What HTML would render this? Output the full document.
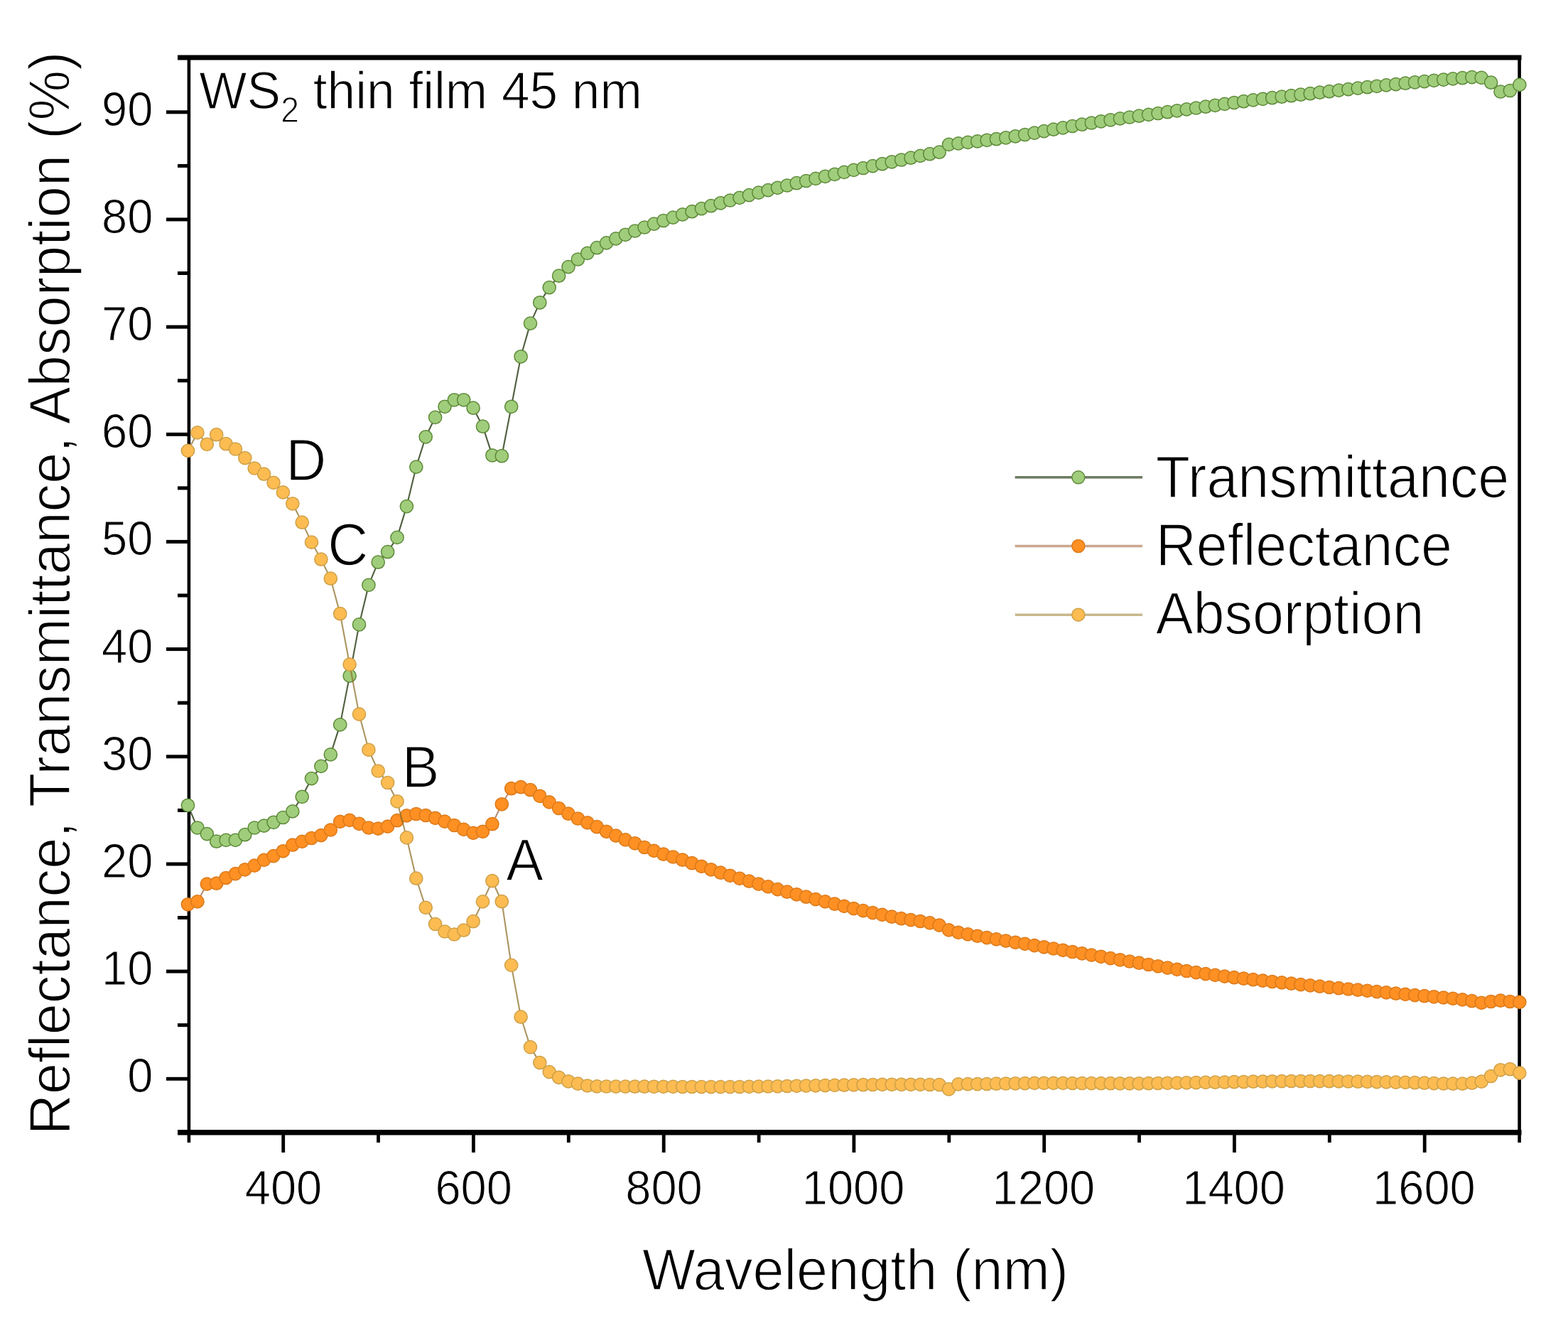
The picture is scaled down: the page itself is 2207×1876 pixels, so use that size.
<!DOCTYPE html>
<html lang="en"><head><meta charset="utf-8"><title>WS2 thin film 45 nm</title>
<style>html,body{margin:0;padding:0;background:#fff}body{width:2207px;height:1876px;overflow:hidden}svg{display:block}text{font-family:"Liberation Sans",sans-serif;fill:#000}</style></head><body>
<svg width="2207" height="1876" viewBox="0 0 2207 1876">
<rect width="2207" height="1876" fill="#fff"/>
<g stroke="#000" fill="none" stroke-linecap="butt">
<line x1="250.0" y1="81.0" x2="2141.5" y2="81.0" stroke-width="7"/>
<line x1="250.0" y1="1593.7" x2="2141.5" y2="1593.7" stroke-width="7.4"/>
<line x1="265.9" y1="81.0" x2="265.9" y2="1608.0" stroke-width="4.6"/>
<line x1="2138.6" y1="81.0" x2="2138.6" y2="1608.0" stroke-width="4.6"/>
<line x1="234" y1="1518.3" x2="265.9" y2="1518.3" stroke-width="5.0"/>
<line x1="234" y1="1367.1" x2="265.9" y2="1367.1" stroke-width="5.0"/>
<line x1="234" y1="1216.0" x2="265.9" y2="1216.0" stroke-width="5.0"/>
<line x1="234" y1="1064.8" x2="265.9" y2="1064.8" stroke-width="5.0"/>
<line x1="234" y1="913.6" x2="265.9" y2="913.6" stroke-width="5.0"/>
<line x1="234" y1="762.4" x2="265.9" y2="762.4" stroke-width="5.0"/>
<line x1="234" y1="611.3" x2="265.9" y2="611.3" stroke-width="5.0"/>
<line x1="234" y1="460.1" x2="265.9" y2="460.1" stroke-width="5.0"/>
<line x1="234" y1="308.9" x2="265.9" y2="308.9" stroke-width="5.0"/>
<line x1="234" y1="157.8" x2="265.9" y2="157.8" stroke-width="5.0"/>
<line x1="250" y1="1442.7" x2="265.9" y2="1442.7" stroke-width="5.0"/>
<line x1="250" y1="1291.5" x2="265.9" y2="1291.5" stroke-width="5.0"/>
<line x1="250" y1="1140.4" x2="265.9" y2="1140.4" stroke-width="5.0"/>
<line x1="250" y1="989.2" x2="265.9" y2="989.2" stroke-width="5.0"/>
<line x1="250" y1="838.0" x2="265.9" y2="838.0" stroke-width="5.0"/>
<line x1="250" y1="686.9" x2="265.9" y2="686.9" stroke-width="5.0"/>
<line x1="250" y1="535.7" x2="265.9" y2="535.7" stroke-width="5.0"/>
<line x1="250" y1="384.5" x2="265.9" y2="384.5" stroke-width="5.0"/>
<line x1="250" y1="233.4" x2="265.9" y2="233.4" stroke-width="5.0"/>
<line x1="398.7" y1="1593.7" x2="398.7" y2="1622" stroke-width="4.8"/>
<line x1="666.4" y1="1593.7" x2="666.4" y2="1622" stroke-width="4.8"/>
<line x1="934.2" y1="1593.7" x2="934.2" y2="1622" stroke-width="4.8"/>
<line x1="1201.9" y1="1593.7" x2="1201.9" y2="1622" stroke-width="4.8"/>
<line x1="1469.7" y1="1593.7" x2="1469.7" y2="1622" stroke-width="4.8"/>
<line x1="1737.4" y1="1593.7" x2="1737.4" y2="1622" stroke-width="4.8"/>
<line x1="2005.2" y1="1593.7" x2="2005.2" y2="1622" stroke-width="4.8"/>
<line x1="532.5" y1="1593.7" x2="532.5" y2="1608" stroke-width="4.8"/>
<line x1="800.3" y1="1593.7" x2="800.3" y2="1608" stroke-width="4.8"/>
<line x1="1068.1" y1="1593.7" x2="1068.1" y2="1608" stroke-width="4.8"/>
<line x1="1335.8" y1="1593.7" x2="1335.8" y2="1608" stroke-width="4.8"/>
<line x1="1603.5" y1="1593.7" x2="1603.5" y2="1608" stroke-width="4.8"/>
<line x1="1871.3" y1="1593.7" x2="1871.3" y2="1608" stroke-width="4.8"/>
</g>
<text transform="translate(215.4,1537.3) scale(1,1.060)" font-size="65.0" text-anchor="end" stroke="#fff" stroke-width="1.0" stroke-linejoin="round">0</text>
<text transform="translate(215.4,1386.1) scale(1,1.060)" font-size="65.0" text-anchor="end" stroke="#fff" stroke-width="1.0" stroke-linejoin="round">10</text>
<text transform="translate(215.4,1235.0) scale(1,1.060)" font-size="65.0" text-anchor="end" stroke="#fff" stroke-width="1.0" stroke-linejoin="round">20</text>
<text transform="translate(215.4,1083.8) scale(1,1.060)" font-size="65.0" text-anchor="end" stroke="#fff" stroke-width="1.0" stroke-linejoin="round">30</text>
<text transform="translate(215.4,932.6) scale(1,1.060)" font-size="65.0" text-anchor="end" stroke="#fff" stroke-width="1.0" stroke-linejoin="round">40</text>
<text transform="translate(215.4,781.4) scale(1,1.060)" font-size="65.0" text-anchor="end" stroke="#fff" stroke-width="1.0" stroke-linejoin="round">50</text>
<text transform="translate(215.4,630.3) scale(1,1.060)" font-size="65.0" text-anchor="end" stroke="#fff" stroke-width="1.0" stroke-linejoin="round">60</text>
<text transform="translate(215.4,479.1) scale(1,1.060)" font-size="65.0" text-anchor="end" stroke="#fff" stroke-width="1.0" stroke-linejoin="round">70</text>
<text transform="translate(215.4,327.9) scale(1,1.060)" font-size="65.0" text-anchor="end" stroke="#fff" stroke-width="1.0" stroke-linejoin="round">80</text>
<text transform="translate(215.4,176.8) scale(1,1.060)" font-size="65.0" text-anchor="end" stroke="#fff" stroke-width="1.0" stroke-linejoin="round">90</text>
<text transform="translate(399.0,1695.0) scale(1,1.060)" font-size="65.0" text-anchor="middle" stroke="#fff" stroke-width="1.0" stroke-linejoin="round">400</text>
<text transform="translate(666.7,1695.0) scale(1,1.060)" font-size="65.0" text-anchor="middle" stroke="#fff" stroke-width="1.0" stroke-linejoin="round">600</text>
<text transform="translate(934.5,1695.0) scale(1,1.060)" font-size="65.0" text-anchor="middle" stroke="#fff" stroke-width="1.0" stroke-linejoin="round">800</text>
<text transform="translate(1201.1,1695.0) scale(1,1.060)" font-size="65.0" text-anchor="middle" stroke="#fff" stroke-width="1.0" stroke-linejoin="round">1000</text>
<text transform="translate(1468.9,1695.0) scale(1,1.060)" font-size="65.0" text-anchor="middle" stroke="#fff" stroke-width="1.0" stroke-linejoin="round">1200</text>
<text transform="translate(1736.6,1695.0) scale(1,1.060)" font-size="65.0" text-anchor="middle" stroke="#fff" stroke-width="1.0" stroke-linejoin="round">1400</text>
<text transform="translate(2004.4,1695.0) scale(1,1.060)" font-size="65.0" text-anchor="middle" stroke="#fff" stroke-width="1.0" stroke-linejoin="round">1600</text>
<text transform="translate(1204.0,1814.6) scale(1,1.030)" font-size="79.2" text-anchor="middle" stroke="#fff" stroke-width="1.5" stroke-linejoin="round">Wavelength (nm)</text>
<text transform="translate(98.0,835.0) rotate(-90) scale(1,1.020)" font-size="79.3" text-anchor="middle" stroke="#fff" stroke-width="1.5" stroke-linejoin="round">Reflectance, Transmittance, Absorption (%)</text>
<text transform="translate(280.2,152.8) scale(1,1.05)" font-size="71.2" stroke="#fff" stroke-width="1.2" stroke-linejoin="round">WS<tspan font-size="47.0" dy="18.6">2</tspan><tspan dy="-18.6"> thin film 45 nm</tspan></text>
<polyline points="264.5,1133.3 277.9,1165.0 291.3,1173.6 304.7,1184.2 318.1,1182.4 331.4,1182.4 344.8,1174.7 358.2,1165.0 371.6,1162.1 385.0,1157.3 398.4,1150.5 411.8,1141.9 425.2,1121.3 438.5,1095.6 451.9,1078.4 465.3,1061.9 478.7,1019.9 492.1,951.1 505.5,878.9 518.9,823.4 532.2,791.2 545.6,776.7 559.0,756.4 572.4,712.6 585.8,657.1 599.2,614.8 612.6,587.4 626.0,572.3 639.4,562.8 652.7,562.8 666.1,574.2 679.5,600.2 692.9,640.8 706.3,641.7 719.7,572.3 733.1,501.8 746.5,455.1 759.8,425.8 773.2,404.6 786.6,388.2 800.0,375.6 813.4,365.0 826.8,356.4 840.2,348.7 853.6,341.9 866.9,335.9 880.3,330.3 893.7,325.0 907.1,320.0 920.5,315.1 933.9,310.5 947.3,306.1 960.7,301.9 974.0,297.7 987.4,293.6 1000.8,289.7 1014.2,285.8 1027.6,282.0 1041.0,278.3 1054.4,274.6 1067.8,271.1 1081.1,267.6 1094.5,264.3 1107.9,261.0 1121.3,257.7 1134.7,254.5 1148.1,251.4 1161.5,248.3 1174.9,245.3 1188.2,242.4 1201.6,239.4 1215.0,236.5 1228.4,233.6 1241.8,230.7 1255.2,227.8 1268.6,225.0 1282.0,222.2 1295.3,219.4 1308.7,216.7 1322.1,214.2 1335.5,203.4 1348.9,201.9 1362.3,200.4 1375.7,198.9 1389.1,197.3 1402.4,195.7 1415.8,193.8 1429.2,191.8 1442.6,189.5 1456.0,187.1 1469.4,184.6 1482.8,182.2 1496.2,179.9 1509.5,177.5 1522.9,175.2 1536.3,173.0 1549.7,170.8 1563.1,168.8 1576.5,166.9 1589.9,165.0 1603.2,163.2 1616.6,161.4 1630.0,159.5 1643.4,157.7 1656.8,155.8 1670.2,153.9 1683.6,152.0 1697.0,150.2 1710.4,148.3 1723.7,146.4 1737.1,144.5 1750.5,142.7 1763.9,140.9 1777.3,139.3 1790.7,137.7 1804.1,136.2 1817.5,134.7 1830.8,133.2 1844.2,131.7 1857.6,130.2 1871.0,128.7 1884.4,127.1 1897.8,125.6 1911.2,124.1 1924.6,122.7 1937.9,121.3 1951.3,119.9 1964.7,118.6 1978.1,117.2 1991.5,115.9 2004.9,114.6 2018.3,113.4 2031.7,112.1 2045.0,110.9 2058.4,109.7 2071.8,108.6 2085.2,109.4 2098.6,116.2 2112.0,129.0 2125.4,127.5 2138.8,119.4" fill="none" stroke="#283c14" stroke-opacity="0.82" stroke-width="2.1" stroke-linejoin="round"/>
<g fill="#a0cd7b" stroke="#5d8a38" stroke-width="1.5">
<circle cx="264.5" cy="1133.3" r="9.1"/>
<circle cx="277.9" cy="1165.0" r="9.1"/>
<circle cx="291.3" cy="1173.6" r="9.1"/>
<circle cx="304.7" cy="1184.2" r="9.1"/>
<circle cx="318.1" cy="1182.4" r="9.1"/>
<circle cx="331.4" cy="1182.4" r="9.1"/>
<circle cx="344.8" cy="1174.7" r="9.1"/>
<circle cx="358.2" cy="1165.0" r="9.1"/>
<circle cx="371.6" cy="1162.1" r="9.1"/>
<circle cx="385.0" cy="1157.3" r="9.1"/>
<circle cx="398.4" cy="1150.5" r="9.1"/>
<circle cx="411.8" cy="1141.9" r="9.1"/>
<circle cx="425.2" cy="1121.3" r="9.1"/>
<circle cx="438.5" cy="1095.6" r="9.1"/>
<circle cx="451.9" cy="1078.4" r="9.1"/>
<circle cx="465.3" cy="1061.9" r="9.1"/>
<circle cx="478.7" cy="1019.9" r="9.1"/>
<circle cx="492.1" cy="951.1" r="9.1"/>
<circle cx="505.5" cy="878.9" r="9.1"/>
<circle cx="518.9" cy="823.4" r="9.1"/>
<circle cx="532.2" cy="791.2" r="9.1"/>
<circle cx="545.6" cy="776.7" r="9.1"/>
<circle cx="559.0" cy="756.4" r="9.1"/>
<circle cx="572.4" cy="712.6" r="9.1"/>
<circle cx="585.8" cy="657.1" r="9.1"/>
<circle cx="599.2" cy="614.8" r="9.1"/>
<circle cx="612.6" cy="587.4" r="9.1"/>
<circle cx="626.0" cy="572.3" r="9.1"/>
<circle cx="639.4" cy="562.8" r="9.1"/>
<circle cx="652.7" cy="562.8" r="9.1"/>
<circle cx="666.1" cy="574.2" r="9.1"/>
<circle cx="679.5" cy="600.2" r="9.1"/>
<circle cx="692.9" cy="640.8" r="9.1"/>
<circle cx="706.3" cy="641.7" r="9.1"/>
<circle cx="719.7" cy="572.3" r="9.1"/>
<circle cx="733.1" cy="501.8" r="9.1"/>
<circle cx="746.5" cy="455.1" r="9.1"/>
<circle cx="759.8" cy="425.8" r="9.1"/>
<circle cx="773.2" cy="404.6" r="9.1"/>
<circle cx="786.6" cy="388.2" r="9.1"/>
<circle cx="800.0" cy="375.6" r="9.1"/>
<circle cx="813.4" cy="365.0" r="9.1"/>
<circle cx="826.8" cy="356.4" r="9.1"/>
<circle cx="840.2" cy="348.7" r="9.1"/>
<circle cx="853.6" cy="341.9" r="9.1"/>
<circle cx="866.9" cy="335.9" r="9.1"/>
<circle cx="880.3" cy="330.3" r="9.1"/>
<circle cx="893.7" cy="325.0" r="9.1"/>
<circle cx="907.1" cy="320.0" r="9.1"/>
<circle cx="920.5" cy="315.1" r="9.1"/>
<circle cx="933.9" cy="310.5" r="9.1"/>
<circle cx="947.3" cy="306.1" r="9.1"/>
<circle cx="960.7" cy="301.9" r="9.1"/>
<circle cx="974.0" cy="297.7" r="9.1"/>
<circle cx="987.4" cy="293.6" r="9.1"/>
<circle cx="1000.8" cy="289.7" r="9.1"/>
<circle cx="1014.2" cy="285.8" r="9.1"/>
<circle cx="1027.6" cy="282.0" r="9.1"/>
<circle cx="1041.0" cy="278.3" r="9.1"/>
<circle cx="1054.4" cy="274.6" r="9.1"/>
<circle cx="1067.8" cy="271.1" r="9.1"/>
<circle cx="1081.1" cy="267.6" r="9.1"/>
<circle cx="1094.5" cy="264.3" r="9.1"/>
<circle cx="1107.9" cy="261.0" r="9.1"/>
<circle cx="1121.3" cy="257.7" r="9.1"/>
<circle cx="1134.7" cy="254.5" r="9.1"/>
<circle cx="1148.1" cy="251.4" r="9.1"/>
<circle cx="1161.5" cy="248.3" r="9.1"/>
<circle cx="1174.9" cy="245.3" r="9.1"/>
<circle cx="1188.2" cy="242.4" r="9.1"/>
<circle cx="1201.6" cy="239.4" r="9.1"/>
<circle cx="1215.0" cy="236.5" r="9.1"/>
<circle cx="1228.4" cy="233.6" r="9.1"/>
<circle cx="1241.8" cy="230.7" r="9.1"/>
<circle cx="1255.2" cy="227.8" r="9.1"/>
<circle cx="1268.6" cy="225.0" r="9.1"/>
<circle cx="1282.0" cy="222.2" r="9.1"/>
<circle cx="1295.3" cy="219.4" r="9.1"/>
<circle cx="1308.7" cy="216.7" r="9.1"/>
<circle cx="1322.1" cy="214.2" r="9.1"/>
<circle cx="1335.5" cy="203.4" r="9.1"/>
<circle cx="1348.9" cy="201.9" r="9.1"/>
<circle cx="1362.3" cy="200.4" r="9.1"/>
<circle cx="1375.7" cy="198.9" r="9.1"/>
<circle cx="1389.1" cy="197.3" r="9.1"/>
<circle cx="1402.4" cy="195.7" r="9.1"/>
<circle cx="1415.8" cy="193.8" r="9.1"/>
<circle cx="1429.2" cy="191.8" r="9.1"/>
<circle cx="1442.6" cy="189.5" r="9.1"/>
<circle cx="1456.0" cy="187.1" r="9.1"/>
<circle cx="1469.4" cy="184.6" r="9.1"/>
<circle cx="1482.8" cy="182.2" r="9.1"/>
<circle cx="1496.2" cy="179.9" r="9.1"/>
<circle cx="1509.5" cy="177.5" r="9.1"/>
<circle cx="1522.9" cy="175.2" r="9.1"/>
<circle cx="1536.3" cy="173.0" r="9.1"/>
<circle cx="1549.7" cy="170.8" r="9.1"/>
<circle cx="1563.1" cy="168.8" r="9.1"/>
<circle cx="1576.5" cy="166.9" r="9.1"/>
<circle cx="1589.9" cy="165.0" r="9.1"/>
<circle cx="1603.2" cy="163.2" r="9.1"/>
<circle cx="1616.6" cy="161.4" r="9.1"/>
<circle cx="1630.0" cy="159.5" r="9.1"/>
<circle cx="1643.4" cy="157.7" r="9.1"/>
<circle cx="1656.8" cy="155.8" r="9.1"/>
<circle cx="1670.2" cy="153.9" r="9.1"/>
<circle cx="1683.6" cy="152.0" r="9.1"/>
<circle cx="1697.0" cy="150.2" r="9.1"/>
<circle cx="1710.4" cy="148.3" r="9.1"/>
<circle cx="1723.7" cy="146.4" r="9.1"/>
<circle cx="1737.1" cy="144.5" r="9.1"/>
<circle cx="1750.5" cy="142.7" r="9.1"/>
<circle cx="1763.9" cy="140.9" r="9.1"/>
<circle cx="1777.3" cy="139.3" r="9.1"/>
<circle cx="1790.7" cy="137.7" r="9.1"/>
<circle cx="1804.1" cy="136.2" r="9.1"/>
<circle cx="1817.5" cy="134.7" r="9.1"/>
<circle cx="1830.8" cy="133.2" r="9.1"/>
<circle cx="1844.2" cy="131.7" r="9.1"/>
<circle cx="1857.6" cy="130.2" r="9.1"/>
<circle cx="1871.0" cy="128.7" r="9.1"/>
<circle cx="1884.4" cy="127.1" r="9.1"/>
<circle cx="1897.8" cy="125.6" r="9.1"/>
<circle cx="1911.2" cy="124.1" r="9.1"/>
<circle cx="1924.6" cy="122.7" r="9.1"/>
<circle cx="1937.9" cy="121.3" r="9.1"/>
<circle cx="1951.3" cy="119.9" r="9.1"/>
<circle cx="1964.7" cy="118.6" r="9.1"/>
<circle cx="1978.1" cy="117.2" r="9.1"/>
<circle cx="1991.5" cy="115.9" r="9.1"/>
<circle cx="2004.9" cy="114.6" r="9.1"/>
<circle cx="2018.3" cy="113.4" r="9.1"/>
<circle cx="2031.7" cy="112.1" r="9.1"/>
<circle cx="2045.0" cy="110.9" r="9.1"/>
<circle cx="2058.4" cy="109.7" r="9.1"/>
<circle cx="2071.8" cy="108.6" r="9.1"/>
<circle cx="2085.2" cy="109.4" r="9.1"/>
<circle cx="2098.6" cy="116.2" r="9.1"/>
<circle cx="2112.0" cy="129.0" r="9.1"/>
<circle cx="2125.4" cy="127.5" r="9.1"/>
<circle cx="2138.8" cy="119.4" r="9.1"/>
</g>
<polyline points="264.5,1272.8 277.9,1268.9 291.3,1244.1 304.7,1243.2 318.1,1235.5 331.4,1229.6 344.8,1223.8 358.2,1218.1 371.6,1210.4 385.0,1204.6 398.4,1197.8 411.8,1189.2 425.2,1184.4 438.5,1179.5 451.9,1175.6 465.3,1168.0 478.7,1156.4 492.1,1154.4 505.5,1159.3 518.9,1165.0 532.2,1166.1 545.6,1163.1 559.0,1154.7 572.4,1147.9 585.8,1145.5 599.2,1147.5 612.6,1151.3 626.0,1156.1 639.4,1161.5 652.7,1167.4 666.1,1172.3 679.5,1170.3 692.9,1159.7 706.3,1131.8 719.7,1109.7 733.1,1107.7 746.5,1111.7 759.8,1120.3 773.2,1128.9 786.6,1137.5 800.0,1145.2 813.4,1152.0 826.8,1157.8 840.2,1163.7 853.6,1170.3 866.9,1176.1 880.3,1181.9 893.7,1186.8 907.1,1192.5 920.5,1197.4 933.9,1202.2 947.3,1206.0 960.7,1210.2 974.0,1214.7 987.4,1219.3 1000.8,1223.8 1014.2,1228.2 1027.6,1232.3 1041.0,1236.3 1054.4,1240.2 1067.8,1244.1 1081.1,1247.9 1094.5,1251.6 1107.9,1255.2 1121.3,1258.8 1134.7,1262.2 1148.1,1265.6 1161.5,1268.9 1174.9,1272.2 1188.2,1275.4 1201.6,1278.6 1215.0,1281.6 1228.4,1284.6 1241.8,1287.4 1255.2,1290.2 1268.6,1292.7 1282.0,1294.6 1295.3,1296.5 1308.7,1298.9 1322.1,1302.1 1335.5,1308.9 1348.9,1312.3 1362.3,1314.9 1375.7,1317.3 1389.1,1319.6 1402.4,1321.9 1415.8,1324.1 1429.2,1326.3 1442.6,1328.4 1456.0,1330.6 1469.4,1332.8 1482.8,1335.0 1496.2,1337.3 1509.5,1339.5 1522.9,1341.8 1536.3,1344.1 1549.7,1346.3 1563.1,1348.6 1576.5,1350.8 1589.9,1353.0 1603.2,1355.2 1616.6,1357.5 1630.0,1359.8 1643.4,1362.1 1656.8,1364.3 1670.2,1366.5 1683.6,1368.6 1697.0,1370.6 1710.4,1372.4 1723.7,1374.1 1737.1,1375.7 1750.5,1377.2 1763.9,1378.7 1777.3,1380.1 1790.7,1381.5 1804.1,1382.9 1817.5,1384.2 1830.8,1385.6 1844.2,1386.9 1857.6,1388.2 1871.0,1389.5 1884.4,1390.7 1897.8,1392.0 1911.2,1393.2 1924.6,1394.4 1937.9,1395.6 1951.3,1396.9 1964.7,1398.2 1978.1,1399.4 1991.5,1400.6 2004.9,1401.7 2018.3,1402.8 2031.7,1404.0 2045.0,1405.3 2058.4,1406.9 2071.8,1408.7 2085.2,1411.4 2098.6,1409.5 2112.0,1408.2 2125.4,1409.5 2138.8,1410.4" fill="none" stroke="#8c4a1c" stroke-opacity="0.62" stroke-width="2.1" stroke-linejoin="round"/>
<g fill="#ff9023" stroke="#dc7a1a" stroke-width="1.5">
<circle cx="264.5" cy="1272.8" r="9.1"/>
<circle cx="277.9" cy="1268.9" r="9.1"/>
<circle cx="291.3" cy="1244.1" r="9.1"/>
<circle cx="304.7" cy="1243.2" r="9.1"/>
<circle cx="318.1" cy="1235.5" r="9.1"/>
<circle cx="331.4" cy="1229.6" r="9.1"/>
<circle cx="344.8" cy="1223.8" r="9.1"/>
<circle cx="358.2" cy="1218.1" r="9.1"/>
<circle cx="371.6" cy="1210.4" r="9.1"/>
<circle cx="385.0" cy="1204.6" r="9.1"/>
<circle cx="398.4" cy="1197.8" r="9.1"/>
<circle cx="411.8" cy="1189.2" r="9.1"/>
<circle cx="425.2" cy="1184.4" r="9.1"/>
<circle cx="438.5" cy="1179.5" r="9.1"/>
<circle cx="451.9" cy="1175.6" r="9.1"/>
<circle cx="465.3" cy="1168.0" r="9.1"/>
<circle cx="478.7" cy="1156.4" r="9.1"/>
<circle cx="492.1" cy="1154.4" r="9.1"/>
<circle cx="505.5" cy="1159.3" r="9.1"/>
<circle cx="518.9" cy="1165.0" r="9.1"/>
<circle cx="532.2" cy="1166.1" r="9.1"/>
<circle cx="545.6" cy="1163.1" r="9.1"/>
<circle cx="559.0" cy="1154.7" r="9.1"/>
<circle cx="572.4" cy="1147.9" r="9.1"/>
<circle cx="585.8" cy="1145.5" r="9.1"/>
<circle cx="599.2" cy="1147.5" r="9.1"/>
<circle cx="612.6" cy="1151.3" r="9.1"/>
<circle cx="626.0" cy="1156.1" r="9.1"/>
<circle cx="639.4" cy="1161.5" r="9.1"/>
<circle cx="652.7" cy="1167.4" r="9.1"/>
<circle cx="666.1" cy="1172.3" r="9.1"/>
<circle cx="679.5" cy="1170.3" r="9.1"/>
<circle cx="692.9" cy="1159.7" r="9.1"/>
<circle cx="706.3" cy="1131.8" r="9.1"/>
<circle cx="719.7" cy="1109.7" r="9.1"/>
<circle cx="733.1" cy="1107.7" r="9.1"/>
<circle cx="746.5" cy="1111.7" r="9.1"/>
<circle cx="759.8" cy="1120.3" r="9.1"/>
<circle cx="773.2" cy="1128.9" r="9.1"/>
<circle cx="786.6" cy="1137.5" r="9.1"/>
<circle cx="800.0" cy="1145.2" r="9.1"/>
<circle cx="813.4" cy="1152.0" r="9.1"/>
<circle cx="826.8" cy="1157.8" r="9.1"/>
<circle cx="840.2" cy="1163.7" r="9.1"/>
<circle cx="853.6" cy="1170.3" r="9.1"/>
<circle cx="866.9" cy="1176.1" r="9.1"/>
<circle cx="880.3" cy="1181.9" r="9.1"/>
<circle cx="893.7" cy="1186.8" r="9.1"/>
<circle cx="907.1" cy="1192.5" r="9.1"/>
<circle cx="920.5" cy="1197.4" r="9.1"/>
<circle cx="933.9" cy="1202.2" r="9.1"/>
<circle cx="947.3" cy="1206.0" r="9.1"/>
<circle cx="960.7" cy="1210.2" r="9.1"/>
<circle cx="974.0" cy="1214.7" r="9.1"/>
<circle cx="987.4" cy="1219.3" r="9.1"/>
<circle cx="1000.8" cy="1223.8" r="9.1"/>
<circle cx="1014.2" cy="1228.2" r="9.1"/>
<circle cx="1027.6" cy="1232.3" r="9.1"/>
<circle cx="1041.0" cy="1236.3" r="9.1"/>
<circle cx="1054.4" cy="1240.2" r="9.1"/>
<circle cx="1067.8" cy="1244.1" r="9.1"/>
<circle cx="1081.1" cy="1247.9" r="9.1"/>
<circle cx="1094.5" cy="1251.6" r="9.1"/>
<circle cx="1107.9" cy="1255.2" r="9.1"/>
<circle cx="1121.3" cy="1258.8" r="9.1"/>
<circle cx="1134.7" cy="1262.2" r="9.1"/>
<circle cx="1148.1" cy="1265.6" r="9.1"/>
<circle cx="1161.5" cy="1268.9" r="9.1"/>
<circle cx="1174.9" cy="1272.2" r="9.1"/>
<circle cx="1188.2" cy="1275.4" r="9.1"/>
<circle cx="1201.6" cy="1278.6" r="9.1"/>
<circle cx="1215.0" cy="1281.6" r="9.1"/>
<circle cx="1228.4" cy="1284.6" r="9.1"/>
<circle cx="1241.8" cy="1287.4" r="9.1"/>
<circle cx="1255.2" cy="1290.2" r="9.1"/>
<circle cx="1268.6" cy="1292.7" r="9.1"/>
<circle cx="1282.0" cy="1294.6" r="9.1"/>
<circle cx="1295.3" cy="1296.5" r="9.1"/>
<circle cx="1308.7" cy="1298.9" r="9.1"/>
<circle cx="1322.1" cy="1302.1" r="9.1"/>
<circle cx="1335.5" cy="1308.9" r="9.1"/>
<circle cx="1348.9" cy="1312.3" r="9.1"/>
<circle cx="1362.3" cy="1314.9" r="9.1"/>
<circle cx="1375.7" cy="1317.3" r="9.1"/>
<circle cx="1389.1" cy="1319.6" r="9.1"/>
<circle cx="1402.4" cy="1321.9" r="9.1"/>
<circle cx="1415.8" cy="1324.1" r="9.1"/>
<circle cx="1429.2" cy="1326.3" r="9.1"/>
<circle cx="1442.6" cy="1328.4" r="9.1"/>
<circle cx="1456.0" cy="1330.6" r="9.1"/>
<circle cx="1469.4" cy="1332.8" r="9.1"/>
<circle cx="1482.8" cy="1335.0" r="9.1"/>
<circle cx="1496.2" cy="1337.3" r="9.1"/>
<circle cx="1509.5" cy="1339.5" r="9.1"/>
<circle cx="1522.9" cy="1341.8" r="9.1"/>
<circle cx="1536.3" cy="1344.1" r="9.1"/>
<circle cx="1549.7" cy="1346.3" r="9.1"/>
<circle cx="1563.1" cy="1348.6" r="9.1"/>
<circle cx="1576.5" cy="1350.8" r="9.1"/>
<circle cx="1589.9" cy="1353.0" r="9.1"/>
<circle cx="1603.2" cy="1355.2" r="9.1"/>
<circle cx="1616.6" cy="1357.5" r="9.1"/>
<circle cx="1630.0" cy="1359.8" r="9.1"/>
<circle cx="1643.4" cy="1362.1" r="9.1"/>
<circle cx="1656.8" cy="1364.3" r="9.1"/>
<circle cx="1670.2" cy="1366.5" r="9.1"/>
<circle cx="1683.6" cy="1368.6" r="9.1"/>
<circle cx="1697.0" cy="1370.6" r="9.1"/>
<circle cx="1710.4" cy="1372.4" r="9.1"/>
<circle cx="1723.7" cy="1374.1" r="9.1"/>
<circle cx="1737.1" cy="1375.7" r="9.1"/>
<circle cx="1750.5" cy="1377.2" r="9.1"/>
<circle cx="1763.9" cy="1378.7" r="9.1"/>
<circle cx="1777.3" cy="1380.1" r="9.1"/>
<circle cx="1790.7" cy="1381.5" r="9.1"/>
<circle cx="1804.1" cy="1382.9" r="9.1"/>
<circle cx="1817.5" cy="1384.2" r="9.1"/>
<circle cx="1830.8" cy="1385.6" r="9.1"/>
<circle cx="1844.2" cy="1386.9" r="9.1"/>
<circle cx="1857.6" cy="1388.2" r="9.1"/>
<circle cx="1871.0" cy="1389.5" r="9.1"/>
<circle cx="1884.4" cy="1390.7" r="9.1"/>
<circle cx="1897.8" cy="1392.0" r="9.1"/>
<circle cx="1911.2" cy="1393.2" r="9.1"/>
<circle cx="1924.6" cy="1394.4" r="9.1"/>
<circle cx="1937.9" cy="1395.6" r="9.1"/>
<circle cx="1951.3" cy="1396.9" r="9.1"/>
<circle cx="1964.7" cy="1398.2" r="9.1"/>
<circle cx="1978.1" cy="1399.4" r="9.1"/>
<circle cx="1991.5" cy="1400.6" r="9.1"/>
<circle cx="2004.9" cy="1401.7" r="9.1"/>
<circle cx="2018.3" cy="1402.8" r="9.1"/>
<circle cx="2031.7" cy="1404.0" r="9.1"/>
<circle cx="2045.0" cy="1405.3" r="9.1"/>
<circle cx="2058.4" cy="1406.9" r="9.1"/>
<circle cx="2071.8" cy="1408.7" r="9.1"/>
<circle cx="2085.2" cy="1411.4" r="9.1"/>
<circle cx="2098.6" cy="1409.5" r="9.1"/>
<circle cx="2112.0" cy="1408.2" r="9.1"/>
<circle cx="2125.4" cy="1409.5" r="9.1"/>
<circle cx="2138.8" cy="1410.4" r="9.1"/>
</g>
<polyline points="264.5,634.4 277.9,608.9 291.3,625.3 304.7,611.7 318.1,624.7 331.4,632.0 344.8,644.5 358.2,659.0 371.6,667.2 385.0,679.3 398.4,692.9 411.8,708.8 425.2,735.2 438.5,763.1 451.9,787.2 465.3,814.2 478.7,863.7 492.1,935.1 505.5,1005.1 518.9,1055.3 532.2,1085.0 545.6,1101.5 559.0,1127.8 572.4,1178.9 585.8,1236.2 599.2,1277.3 612.6,1300.5 626.0,1311.0 639.4,1315.0 652.7,1309.2 666.1,1296.7 679.5,1268.9 692.9,1239.7 706.3,1268.7 719.7,1358.4 733.1,1431.2 746.5,1473.6 759.8,1495.6 773.2,1508.6 786.6,1516.3 800.0,1521.8 813.4,1525.1 826.8,1528.0 840.2,1528.9 853.6,1529.0 866.9,1529.1 880.3,1529.1 893.7,1529.2 907.1,1529.2 920.5,1529.3 933.9,1529.4 947.3,1529.4 960.7,1529.5 974.0,1529.5 987.4,1529.6 1000.8,1529.6 1014.2,1529.6 1027.6,1529.6 1041.0,1529.5 1054.4,1529.4 1067.8,1529.2 1081.1,1529.0 1094.5,1528.8 1107.9,1528.5 1121.3,1528.3 1134.7,1528.1 1148.1,1527.9 1161.5,1527.6 1174.9,1527.4 1188.2,1527.2 1201.6,1526.9 1215.0,1526.7 1228.4,1526.5 1241.8,1526.4 1255.2,1526.3 1268.6,1526.3 1282.0,1526.3 1295.3,1526.4 1308.7,1526.5 1322.1,1526.6 1335.5,1532.8 1348.9,1525.9 1362.3,1525.7 1375.7,1525.6 1389.1,1525.5 1402.4,1525.2 1415.8,1525.0 1429.2,1524.8 1442.6,1524.6 1456.0,1524.4 1469.4,1524.3 1482.8,1524.4 1496.2,1524.4 1509.5,1524.5 1522.9,1524.5 1536.3,1524.6 1549.7,1524.7 1563.1,1524.7 1576.5,1524.8 1589.9,1524.8 1603.2,1524.8 1616.6,1524.7 1630.0,1524.5 1643.4,1524.3 1656.8,1524.1 1670.2,1523.8 1683.6,1523.6 1697.0,1523.4 1710.4,1523.2 1723.7,1523.0 1737.1,1522.7 1750.5,1522.5 1763.9,1522.2 1777.3,1522.0 1790.7,1521.8 1804.1,1521.6 1817.5,1521.5 1830.8,1521.5 1844.2,1521.5 1857.6,1521.6 1871.0,1521.7 1884.4,1521.8 1897.8,1522.0 1911.2,1522.2 1924.6,1522.4 1937.9,1522.6 1951.3,1522.9 1964.7,1523.1 1978.1,1523.4 1991.5,1523.7 2004.9,1524.2 2018.3,1524.6 2031.7,1525.0 2045.0,1525.2 2058.4,1525.2 2071.8,1524.2 2085.2,1522.1 2098.6,1514.5 2112.0,1505.8 2125.4,1504.7 2138.8,1510.1" fill="none" stroke="#8a6c24" stroke-opacity="0.72" stroke-width="2.1" stroke-linejoin="round"/>
<g fill="#fcbc52" stroke="#cfa046" stroke-width="1.5">
<circle cx="264.5" cy="634.4" r="9.1"/>
<circle cx="277.9" cy="608.9" r="9.1"/>
<circle cx="291.3" cy="625.3" r="9.1"/>
<circle cx="304.7" cy="611.7" r="9.1"/>
<circle cx="318.1" cy="624.7" r="9.1"/>
<circle cx="331.4" cy="632.0" r="9.1"/>
<circle cx="344.8" cy="644.5" r="9.1"/>
<circle cx="358.2" cy="659.0" r="9.1"/>
<circle cx="371.6" cy="667.2" r="9.1"/>
<circle cx="385.0" cy="679.3" r="9.1"/>
<circle cx="398.4" cy="692.9" r="9.1"/>
<circle cx="411.8" cy="708.8" r="9.1"/>
<circle cx="425.2" cy="735.2" r="9.1"/>
<circle cx="438.5" cy="763.1" r="9.1"/>
<circle cx="451.9" cy="787.2" r="9.1"/>
<circle cx="465.3" cy="814.2" r="9.1"/>
<circle cx="478.7" cy="863.7" r="9.1"/>
<circle cx="492.1" cy="935.1" r="9.1"/>
<circle cx="505.5" cy="1005.1" r="9.1"/>
<circle cx="518.9" cy="1055.3" r="9.1"/>
<circle cx="532.2" cy="1085.0" r="9.1"/>
<circle cx="545.6" cy="1101.5" r="9.1"/>
<circle cx="559.0" cy="1127.8" r="9.1"/>
<circle cx="572.4" cy="1178.9" r="9.1"/>
<circle cx="585.8" cy="1236.2" r="9.1"/>
<circle cx="599.2" cy="1277.3" r="9.1"/>
<circle cx="612.6" cy="1300.5" r="9.1"/>
<circle cx="626.0" cy="1311.0" r="9.1"/>
<circle cx="639.4" cy="1315.0" r="9.1"/>
<circle cx="652.7" cy="1309.2" r="9.1"/>
<circle cx="666.1" cy="1296.7" r="9.1"/>
<circle cx="679.5" cy="1268.9" r="9.1"/>
<circle cx="692.9" cy="1239.7" r="9.1"/>
<circle cx="706.3" cy="1268.7" r="9.1"/>
<circle cx="719.7" cy="1358.4" r="9.1"/>
<circle cx="733.1" cy="1431.2" r="9.1"/>
<circle cx="746.5" cy="1473.6" r="9.1"/>
<circle cx="759.8" cy="1495.6" r="9.1"/>
<circle cx="773.2" cy="1508.6" r="9.1"/>
<circle cx="786.6" cy="1516.3" r="9.1"/>
<circle cx="800.0" cy="1521.8" r="9.1"/>
<circle cx="813.4" cy="1525.1" r="9.1"/>
<circle cx="826.8" cy="1528.0" r="9.1"/>
<circle cx="840.2" cy="1528.9" r="9.1"/>
<circle cx="853.6" cy="1529.0" r="9.1"/>
<circle cx="866.9" cy="1529.1" r="9.1"/>
<circle cx="880.3" cy="1529.1" r="9.1"/>
<circle cx="893.7" cy="1529.2" r="9.1"/>
<circle cx="907.1" cy="1529.2" r="9.1"/>
<circle cx="920.5" cy="1529.3" r="9.1"/>
<circle cx="933.9" cy="1529.4" r="9.1"/>
<circle cx="947.3" cy="1529.4" r="9.1"/>
<circle cx="960.7" cy="1529.5" r="9.1"/>
<circle cx="974.0" cy="1529.5" r="9.1"/>
<circle cx="987.4" cy="1529.6" r="9.1"/>
<circle cx="1000.8" cy="1529.6" r="9.1"/>
<circle cx="1014.2" cy="1529.6" r="9.1"/>
<circle cx="1027.6" cy="1529.6" r="9.1"/>
<circle cx="1041.0" cy="1529.5" r="9.1"/>
<circle cx="1054.4" cy="1529.4" r="9.1"/>
<circle cx="1067.8" cy="1529.2" r="9.1"/>
<circle cx="1081.1" cy="1529.0" r="9.1"/>
<circle cx="1094.5" cy="1528.8" r="9.1"/>
<circle cx="1107.9" cy="1528.5" r="9.1"/>
<circle cx="1121.3" cy="1528.3" r="9.1"/>
<circle cx="1134.7" cy="1528.1" r="9.1"/>
<circle cx="1148.1" cy="1527.9" r="9.1"/>
<circle cx="1161.5" cy="1527.6" r="9.1"/>
<circle cx="1174.9" cy="1527.4" r="9.1"/>
<circle cx="1188.2" cy="1527.2" r="9.1"/>
<circle cx="1201.6" cy="1526.9" r="9.1"/>
<circle cx="1215.0" cy="1526.7" r="9.1"/>
<circle cx="1228.4" cy="1526.5" r="9.1"/>
<circle cx="1241.8" cy="1526.4" r="9.1"/>
<circle cx="1255.2" cy="1526.3" r="9.1"/>
<circle cx="1268.6" cy="1526.3" r="9.1"/>
<circle cx="1282.0" cy="1526.3" r="9.1"/>
<circle cx="1295.3" cy="1526.4" r="9.1"/>
<circle cx="1308.7" cy="1526.5" r="9.1"/>
<circle cx="1322.1" cy="1526.6" r="9.1"/>
<circle cx="1335.5" cy="1532.8" r="9.1"/>
<circle cx="1348.9" cy="1525.9" r="9.1"/>
<circle cx="1362.3" cy="1525.7" r="9.1"/>
<circle cx="1375.7" cy="1525.6" r="9.1"/>
<circle cx="1389.1" cy="1525.5" r="9.1"/>
<circle cx="1402.4" cy="1525.2" r="9.1"/>
<circle cx="1415.8" cy="1525.0" r="9.1"/>
<circle cx="1429.2" cy="1524.8" r="9.1"/>
<circle cx="1442.6" cy="1524.6" r="9.1"/>
<circle cx="1456.0" cy="1524.4" r="9.1"/>
<circle cx="1469.4" cy="1524.3" r="9.1"/>
<circle cx="1482.8" cy="1524.4" r="9.1"/>
<circle cx="1496.2" cy="1524.4" r="9.1"/>
<circle cx="1509.5" cy="1524.5" r="9.1"/>
<circle cx="1522.9" cy="1524.5" r="9.1"/>
<circle cx="1536.3" cy="1524.6" r="9.1"/>
<circle cx="1549.7" cy="1524.7" r="9.1"/>
<circle cx="1563.1" cy="1524.7" r="9.1"/>
<circle cx="1576.5" cy="1524.8" r="9.1"/>
<circle cx="1589.9" cy="1524.8" r="9.1"/>
<circle cx="1603.2" cy="1524.8" r="9.1"/>
<circle cx="1616.6" cy="1524.7" r="9.1"/>
<circle cx="1630.0" cy="1524.5" r="9.1"/>
<circle cx="1643.4" cy="1524.3" r="9.1"/>
<circle cx="1656.8" cy="1524.1" r="9.1"/>
<circle cx="1670.2" cy="1523.8" r="9.1"/>
<circle cx="1683.6" cy="1523.6" r="9.1"/>
<circle cx="1697.0" cy="1523.4" r="9.1"/>
<circle cx="1710.4" cy="1523.2" r="9.1"/>
<circle cx="1723.7" cy="1523.0" r="9.1"/>
<circle cx="1737.1" cy="1522.7" r="9.1"/>
<circle cx="1750.5" cy="1522.5" r="9.1"/>
<circle cx="1763.9" cy="1522.2" r="9.1"/>
<circle cx="1777.3" cy="1522.0" r="9.1"/>
<circle cx="1790.7" cy="1521.8" r="9.1"/>
<circle cx="1804.1" cy="1521.6" r="9.1"/>
<circle cx="1817.5" cy="1521.5" r="9.1"/>
<circle cx="1830.8" cy="1521.5" r="9.1"/>
<circle cx="1844.2" cy="1521.5" r="9.1"/>
<circle cx="1857.6" cy="1521.6" r="9.1"/>
<circle cx="1871.0" cy="1521.7" r="9.1"/>
<circle cx="1884.4" cy="1521.8" r="9.1"/>
<circle cx="1897.8" cy="1522.0" r="9.1"/>
<circle cx="1911.2" cy="1522.2" r="9.1"/>
<circle cx="1924.6" cy="1522.4" r="9.1"/>
<circle cx="1937.9" cy="1522.6" r="9.1"/>
<circle cx="1951.3" cy="1522.9" r="9.1"/>
<circle cx="1964.7" cy="1523.1" r="9.1"/>
<circle cx="1978.1" cy="1523.4" r="9.1"/>
<circle cx="1991.5" cy="1523.7" r="9.1"/>
<circle cx="2004.9" cy="1524.2" r="9.1"/>
<circle cx="2018.3" cy="1524.6" r="9.1"/>
<circle cx="2031.7" cy="1525.0" r="9.1"/>
<circle cx="2045.0" cy="1525.2" r="9.1"/>
<circle cx="2058.4" cy="1525.2" r="9.1"/>
<circle cx="2071.8" cy="1524.2" r="9.1"/>
<circle cx="2085.2" cy="1522.1" r="9.1"/>
<circle cx="2098.6" cy="1514.5" r="9.1"/>
<circle cx="2112.0" cy="1505.8" r="9.1"/>
<circle cx="2125.4" cy="1504.7" r="9.1"/>
<circle cx="2138.8" cy="1510.1" r="9.1"/>
</g>
<text transform="translate(402.3,675.6) scale(1,1.050)" font-size="79.0" text-anchor="start" stroke="#fff" stroke-width="1.5" stroke-linejoin="round">D</text>
<text transform="translate(461.2,794.5) scale(1,1.050)" font-size="79.0" text-anchor="start" stroke="#fff" stroke-width="1.5" stroke-linejoin="round">C</text>
<text transform="translate(565.8,1107.8) scale(1,1.050)" font-size="79.0" text-anchor="start" stroke="#fff" stroke-width="1.5" stroke-linejoin="round">B</text>
<text transform="translate(712.2,1239.0) scale(1,1.050)" font-size="79.0" text-anchor="start" stroke="#fff" stroke-width="1.5" stroke-linejoin="round">A</text>
<line x1="1428.6" y1="671.8" x2="1608" y2="671.8" stroke="#283c14" stroke-opacity="0.68" stroke-width="3.4"/>
<circle cx="1517.8" cy="671.8" r="9.0" fill="#a0cd7b" stroke="#5d8a38" stroke-width="1.5"/>
<text transform="translate(1626.8,700.2) scale(1,1.050)" font-size="79.0" text-anchor="start" stroke="#fff" stroke-width="1.5" stroke-linejoin="round">Transmittance</text>
<line x1="1428.6" y1="768.5" x2="1608" y2="768.5" stroke="#96501e" stroke-opacity="0.50" stroke-width="3.4"/>
<circle cx="1517.8" cy="768.5" r="9.0" fill="#ff9023" stroke="#dc7a1a" stroke-width="1.5"/>
<text transform="translate(1626.8,796.3) scale(1,1.050)" font-size="79.0" text-anchor="start" stroke="#fff" stroke-width="1.5" stroke-linejoin="round">Reflectance</text>
<line x1="1428.6" y1="865.2" x2="1608" y2="865.2" stroke="#9a7d2e" stroke-opacity="0.55" stroke-width="3.4"/>
<circle cx="1517.8" cy="865.2" r="9.0" fill="#fcbc52" stroke="#cfa046" stroke-width="1.5"/>
<text transform="translate(1626.8,891.8) scale(1,1.050)" font-size="79.0" text-anchor="start" stroke="#fff" stroke-width="1.5" stroke-linejoin="round">Absorption</text>
</svg></body></html>
